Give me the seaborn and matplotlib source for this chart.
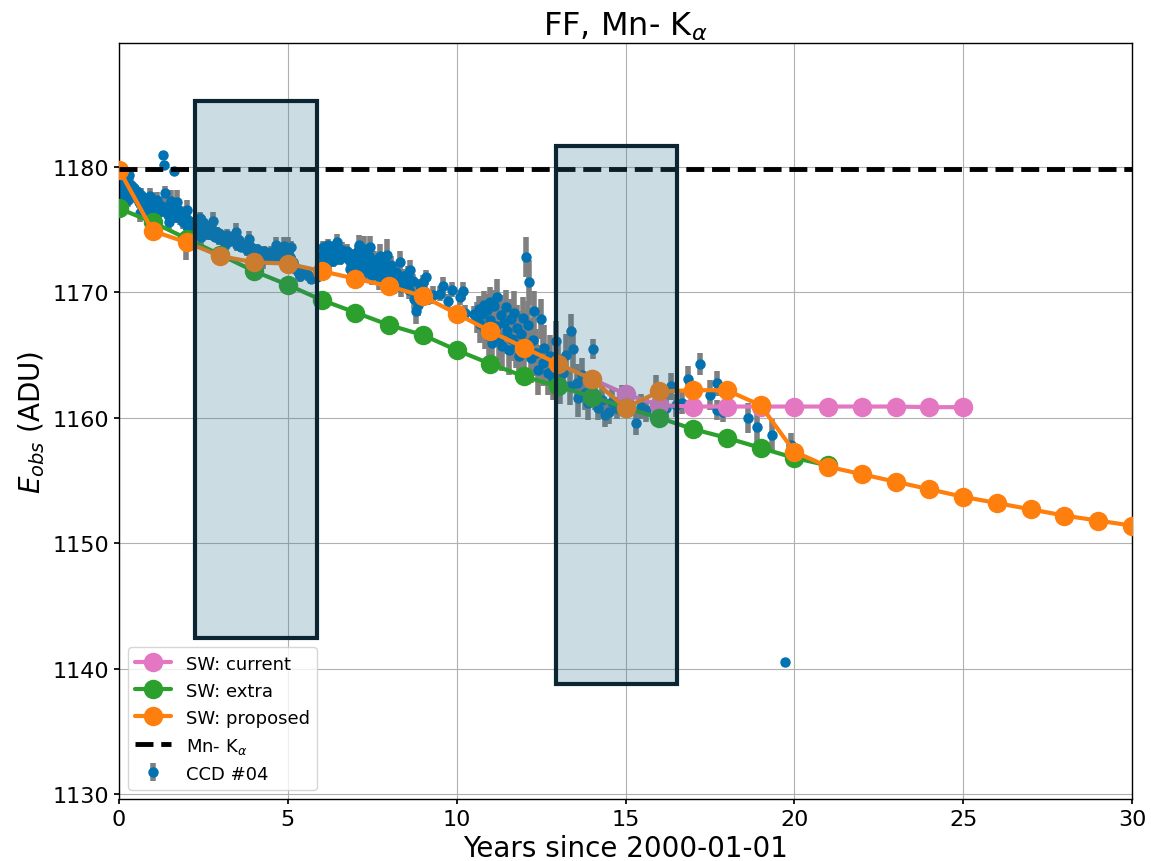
import matplotlib
matplotlib.use("Agg")
import matplotlib.pyplot as plt
import matplotlib.patches as mpatches
from matplotlib.colors import to_rgba
import seaborn as sns
import pandas as pd

# ---------------- data ----------------
years_current = [14, 15, 16, 17, 18, 19, 20, 21, 22, 23, 24, 25]
e_current = [1163.1, 1161.9, 1161.0, 1160.9, 1160.9, 1160.9, 1160.9, 1160.9, 1160.9, 1160.9, 1160.85, 1160.85]

years_extra = list(range(0, 22))
e_extra = [1176.7, 1175.6, 1174.3, 1173.0, 1171.7, 1170.6, 1169.4, 1168.4, 1167.4, 1166.6,
           1165.4, 1164.3, 1163.3, 1162.5, 1161.7, 1160.8, 1160.0, 1159.1, 1158.4, 1157.6,
           1156.8, 1156.2]

years_proposed = list(range(0, 31))
e_proposed = [1179.8, 1174.9, 1174.0, 1172.9, 1172.4, 1172.3, 1171.7, 1171.1, 1170.5, 1169.7,
              1168.3, 1166.9, 1165.6, 1164.3, 1163.1, 1160.8, 1162.1, 1162.2, 1162.2, 1161.0,
              1157.3, 1156.1, 1155.5, 1154.9, 1154.3, 1153.7, 1153.2, 1152.7, 1152.2, 1151.8,
              1151.4]

mn_ka = 1179.85

# CCD #04 measurements: (year, energy, error)
ccd_t = [0.02, 0.05, 0.08, 0.12, 0.15, 0.2, 0.25, 0.3, 0.35, 0.4, 0.45, 0.5, 0.55, 0.6, 0.65, 0.7,
         0.75, 0.8, 0.85, 0.9, 0.95, 1.0, 1.05, 1.1, 1.15, 1.2, 1.25, 1.3, 1.32, 1.35, 1.4, 1.45,
         1.5, 1.55, 1.6, 1.64, 1.7, 1.75, 1.8, 1.85, 1.9, 1.95, 1.98, 2.0, 2.05, 2.1, 2.15, 2.2, 2.25,
         2.3, 2.35, 2.4, 2.45, 2.5, 2.55, 2.6, 2.65, 2.7, 2.75, 2.8, 2.85, 2.9, 2.95, 3.0, 3.1,
         3.2, 3.25, 3.3, 3.4, 3.5, 3.55, 3.6, 3.7, 3.8, 3.9, 4.0, 4.1, 4.2, 4.3, 4.4, 4.5, 4.6,
         4.7, 4.8, 4.85, 4.9, 4.95, 5.0, 5.05, 5.1, 5.15, 5.2, 5.3, 5.35, 5.5, 5.6, 5.7, 5.85,
         5.95, 6.0, 6.05, 6.1, 6.15, 6.2, 6.25, 6.3, 6.35, 6.4, 6.5, 6.55, 6.6, 6.7, 6.75, 6.8,
         6.9, 7.0, 7.05, 7.1, 7.15, 7.2, 7.25, 7.3, 7.35, 7.4, 7.45, 7.5, 7.55, 7.6, 7.65, 7.7,
         7.75, 7.8, 7.85, 7.9, 7.95, 8.0, 8.05, 8.1, 8.15, 8.2, 8.3, 8.35, 8.4, 8.5, 8.55, 8.6,
         8.7, 8.75, 8.8, 8.85, 8.9, 9.0, 9.05, 9.1, 9.15, 9.3, 9.5, 9.6, 9.75, 9.85, 10.1, 10.2,
         10.25, 10.5,
         10.6, 10.65, 10.7, 10.75, 10.8, 10.85, 10.9, 10.95, 11.0, 11.0, 11.05, 11.1, 11.15, 11.2,
         11.25, 11.3, 11.35, 11.4, 11.45, 11.5, 11.55, 11.6, 11.65, 11.7, 11.75, 11.8, 11.85, 11.9,
         11.95, 12.0, 12.05, 12.1, 12.15, 12.2, 12.25, 12.3, 12.35, 12.4, 12.5, 12.55, 12.6, 12.7,
         12.75, 12.85, 12.95, 13.0, 13.05, 13.15, 13.25, 13.35, 13.4, 13.45, 13.55, 13.6, 13.7,
         13.8, 13.9, 14.05, 14.1, 14.2, 14.3, 14.4, 14.5, 14.6, 14.75, 14.9,
         15.1, 15.3, 15.45, 15.6, 15.9, 16.05, 16.2, 16.35, 16.5, 16.66, 16.86, 17.2, 17.5, 17.7,
         17.72, 17.9, 18.63, 18.88, 19.35, 19.72, 19.9,
         0.1, 0.28, 0.62, 0.92, 1.12, 1.48, 1.72, 2.02, 2.42, 2.78, 3.15, 3.45, 3.85, 4.25, 4.65,
         6.12, 6.45, 6.85, 7.12, 7.42, 7.72, 8.02, 8.32, 8.62]
ccd_e = [1179.6, 1178.8, 1178.2, 1179.2, 1178.5, 1179.0, 1178.0, 1179.4, 1178.6, 1177.9, 1178.3,
         1177.6, 1178.0, 1177.2, 1177.8, 1176.9, 1177.5, 1176.6, 1177.2, 1176.4, 1176.9, 1176.0,
         1176.6, 1175.8, 1176.3, 1177.0, 1176.5, 1181.0, 1180.2, 1177.9, 1176.8, 1176.2, 1176.9,
         1177.3, 1176.4, 1179.7, 1176.0, 1176.6, 1175.9, 1176.3, 1175.6, 1176.0, 1174.0, 1175.3,
         1175.8, 1174.9, 1175.4, 1175.0, 1174.6,
         1175.6, 1175.0, 1175.9, 1175.3, 1175.6, 1174.9, 1175.3, 1174.7, 1175.1, 1174.6, 1174.9,
         1174.4, 1174.8, 1174.3, 1174.7, 1174.4, 1174.6, 1174.1, 1174.4, 1174.1, 1173.8, 1174.2,
         1173.6, 1173.8, 1173.4, 1173.6, 1173.2, 1173.5, 1173.0, 1173.3, 1172.9, 1173.2, 1172.8,
         1173.1, 1172.9, 1173.3, 1173.7, 1172.6, 1173.2, 1172.8, 1173.6, 1172.4, 1172.0, 1171.6,
         1171.3, 1171.6, 1171.4, 1171.1, 1171.2,
         1172.2, 1173.0, 1173.6, 1172.6, 1173.3, 1173.8, 1172.8, 1173.4, 1172.5, 1173.6, 1173.1,
         1172.7, 1173.4, 1172.9, 1173.3, 1172.6, 1173.0, 1172.5, 1173.2, 1172.2, 1172.8, 1171.9,
         1173.5, 1172.4, 1171.6, 1172.9, 1172.1, 1171.4, 1172.6, 1171.9, 1172.3, 1171.2, 1172.0,
         1171.6, 1172.4, 1171.0, 1173.0, 1171.8, 1172.2, 1171.3, 1170.8, 1171.6, 1171.0, 1170.4,
         1171.3, 1170.7, 1171.5, 1170.2, 1170.9, 1169.5, 1168.5, 1169.0, 1170.5, 1170.8, 1170.0,
         1171.2, 1169.6, 1169.8, 1169.9, 1170.5, 1169.3, 1170.2, 1169.6, 1170.1, 1168.4, 1168.3,
         1168.0, 1168.7, 1167.5, 1168.3, 1169.0, 1167.0, 1168.6, 1166.5, 1169.2, 1167.8, 1166.0,
         1168.9, 1167.3, 1169.6, 1166.4, 1168.2, 1165.7, 1167.6, 1168.8, 1166.9, 1165.4, 1167.9,
         1166.3, 1168.4, 1165.9, 1167.2, 1164.9, 1166.7, 1168.0, 1165.5, 1172.8, 1167.4, 1170.8,
         1164.8, 1166.2, 1168.5, 1165.2, 1163.8, 1167.9, 1164.4, 1165.6, 1163.6, 1164.9, 1163.2,
         1166.1, 1164.2, 1162.8, 1163.6, 1165.0, 1162.5, 1166.9, 1165.5, 1162.8, 1161.6, 1163.4,
         1162.0, 1161.2, 1165.5, 1161.8, 1160.8, 1161.4, 1160.2, 1160.5, 1161.3, 1160.8, 1161.6,
         1161.2, 1159.6, 1160.9, 1160.6, 1162.4, 1161.6, 1160.8, 1162.5, 1161.0, 1161.2, 1163.1,
         1164.3, 1161.8, 1162.75, 1160.6, 1160.5, 1160.0, 1159.3, 1158.6, 1140.5, 1157.8,
         1177.7, 1177.4, 1176.3, 1177.7, 1177.4, 1175.6, 1177.2, 1176.6, 1174.4, 1175.7, 1173.8,
         1174.8, 1174.3, 1172.6, 1173.8,
         1172.0, 1174.0, 1171.9, 1173.8, 1173.6, 1172.9, 1170.9, 1172.4, 1171.8]
ccd_err = [0.4, 0.5, 0.5, 0.4, 0.5, 0.4, 0.5, 0.4, 0.5, 0.5, 0.4, 0.5, 0.4, 0.5, 0.5, 0.5, 0.4,
           0.5, 0.5, 0.4, 0.5, 0.5, 0.4, 0.5, 0.5, 0.6, 0.5, 0.3, 0.3, 0.6, 0.5, 0.5, 0.6, 0.9,
           0.5, 0.3, 0.5, 0.5, 0.5, 0.6, 0.5, 0.6, 1.4, 0.6, 1.0, 0.6, 0.6, 1.0, 0.5,
           0.5, 0.5, 0.5, 0.4, 0.5, 0.5, 0.4, 0.5, 0.4, 0.4, 0.5, 0.4, 0.4, 0.5, 0.4, 0.4, 0.5,
           0.5, 0.4, 0.4, 0.5, 0.4, 0.4, 0.4, 0.5, 0.4, 0.4, 0.4, 0.5, 0.4, 0.4, 0.5, 0.4, 0.5,
           0.6, 0.6, 0.7, 0.5, 1.2, 0.6, 0.5, 0.5, 0.5, 0.5, 0.5, 0.4, 0.5, 0.4, 0.4,
           0.6, 0.5, 0.5, 0.6, 0.5, 0.5, 0.5, 0.6, 0.5, 0.5, 0.6, 0.5, 0.6, 0.5, 0.6, 0.6, 0.5,
           0.7, 0.6, 0.6, 0.7, 0.6, 1.0, 0.7, 0.7, 0.8, 0.7, 0.8, 0.7, 0.6, 0.8, 1.0, 0.7, 0.8,
           0.7, 0.8, 1.3, 0.9, 0.7, 0.8, 0.9, 0.7, 0.6, 0.8, 0.6, 0.7, 0.6, 0.7, 0.6, 0.8, 1.0,
           0.9, 0.6, 0.6, 0.7, 0.6, 0.6, 0.7, 0.6, 0.7, 0.6, 0.6, 0.6, 0.7, 0.6, 0.6,
           1.2, 1.0, 1.5, 1.2, 1.1, 1.5, 1.3, 1.6, 1.2, 1.4, 1.8, 1.3, 1.6, 1.5, 1.8, 1.6, 2.0,
           1.6, 1.4, 1.8, 2.0, 1.6, 1.8, 1.7, 1.9, 1.8, 2.0, 1.8, 1.6, 2.0, 1.6, 1.9, 1.8, 2.0,
           1.8, 1.6, 1.9, 2.0, 1.6, 1.9, 1.8, 1.8, 1.7, 1.8, 1.6, 1.6, 1.7, 1.5, 1.7, 1.5, 1.4,
           1.6, 1.5, 1.5, 1.4, 1.4, 1.4, 0.8, 1.2, 1.0, 1.1, 0.9, 1.0, 1.0, 0.9, 1.0,
           0.9, 1.0, 1.0, 0.9, 1.0, 0.9, 1.0, 1.1, 0.9, 0.9, 1.0, 0.9, 1.2, 1.0, 0.8, 0.8, 1.2,
           1.2, 1.3, 0.2, 1.0,
           0.6, 0.6, 0.7, 0.6, 0.6, 0.7, 1.0, 0.8, 0.6, 0.7, 0.6, 0.7, 0.6, 0.7, 0.6,
           0.8, 0.7, 0.9, 0.8, 0.9, 1.0, 1.0, 0.9, 0.8]

# highlighted windows: (x start, x end, y bottom, y top)
box_x0 = [2.25, 12.94]
box_x1 = [5.86, 16.52]
box_y0 = [1142.4, 1138.8]
box_y1 = [1185.25, 1181.67]

# ---------------- style ----------------
sns.set_theme(style="whitegrid")
plt.rcParams.update({
    "axes.edgecolor": "black",
    "axes.linewidth": 1.0,
    "axes.labelcolor": "black",
    "text.color": "black",
    "grid.color": "#b0b0b0",
    "grid.linewidth": 0.8,
    "xtick.bottom": True,
    "ytick.left": True,
    "xtick.major.size": 3.5,
    "ytick.major.size": 3.5,
    "xtick.color": "black",
    "ytick.color": "black",
})
plt.rcParams["font.family"] = ["DejaVu Sans"]

fig = plt.figure(figsize=(11.51, 8.62), dpi=100)
ax = fig.add_axes([0.1034, 0.072, 0.8801, 0.877])

lw = 3
ms = 14
df_cur = pd.DataFrame({"t": years_current, "e": e_current})
df_ext = pd.DataFrame({"t": years_extra, "e": e_extra})
df_pro = pd.DataFrame({"t": years_proposed, "e": e_proposed})

sns.lineplot(data=df_cur, x="t", y="e", ax=ax, color="#e377c2", marker="o", markersize=ms,
             markeredgewidth=0, linewidth=lw, label="SW: current", zorder=3)
sns.lineplot(data=df_ext, x="t", y="e", ax=ax, color="#2ca02c", marker="o", markersize=ms,
             markeredgewidth=0, linewidth=lw, label="SW: extra", zorder=3)
sns.lineplot(data=df_pro, x="t", y="e", ax=ax, color="#ff7f0e", marker="o", markersize=ms,
             markeredgewidth=0, linewidth=lw, label="SW: proposed", zorder=3)
ax.axhline(mn_ka, color="black", linestyle="--", linewidth=3.5, label=r"Mn- K$_\alpha$", zorder=3)

ax.errorbar(ccd_t, ccd_e, yerr=ccd_err, fmt="o", color="#0072b2", ecolor="gray",
            elinewidth=4, markersize=6.5, label="CCD #04", zorder=2)

for x0, x1, y0, y1 in zip(box_x0, box_x1, box_y0, box_y1):
    ax.add_patch(mpatches.Rectangle((x0, y0), x1 - x0, y1 - y0,
                                    facecolor=to_rgba("#377793", 0.25),
                                    edgecolor="#0b2533", linewidth=3, zorder=5))

ax.set_xlim(0, 30)
ax.set_ylim(1129.6, 1189.9)
ax.set_xticks([0, 5, 10, 15, 20, 25, 30])
ax.set_yticks([1130, 1140, 1150, 1160, 1170, 1180])
ax.tick_params(axis="both", labelsize=16)
ax.set_xlabel("Years since 2000-01-01", fontsize=20)
ax.set_ylabel(r"$E_{obs}$ (ADU)", fontsize=20)
ax.set_title(r"FF, Mn- K$_\alpha$", fontsize=23)
ax.grid(True)

leg = ax.legend(loc="lower left", fontsize=13, frameon=True, facecolor="white",
                edgecolor="#cccccc")

fig.savefig("out.png", dpi=100)
